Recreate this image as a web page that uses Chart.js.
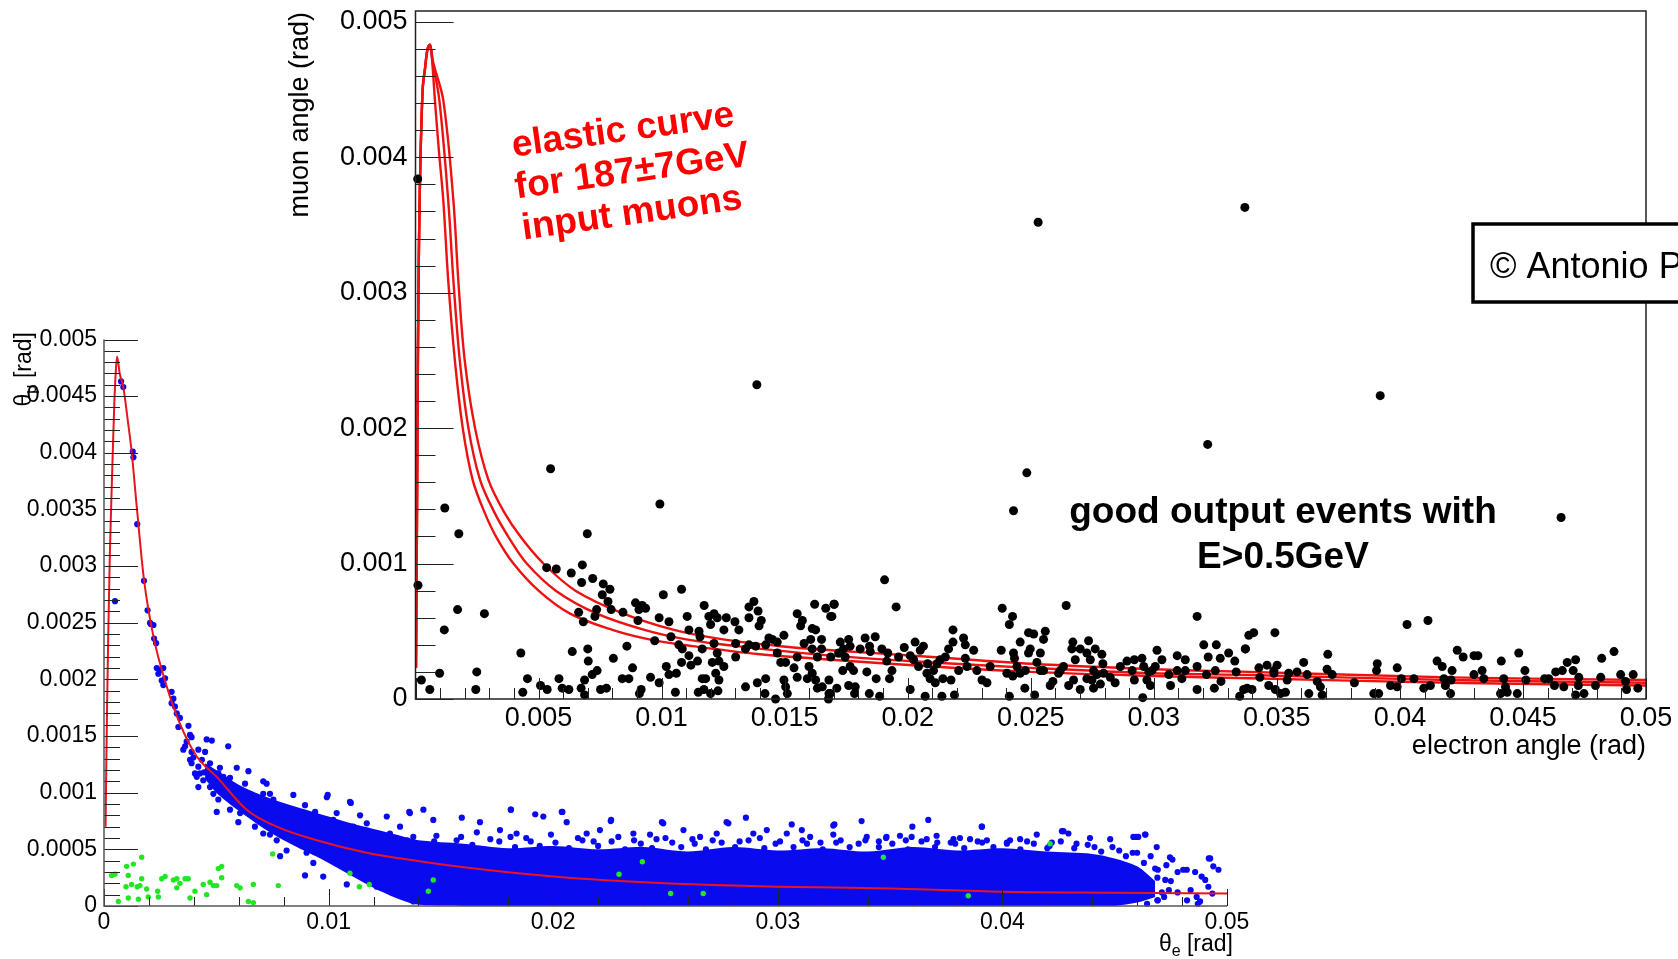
<!DOCTYPE html>
<html><head><meta charset="utf-8">
<script src="https://cdn.jsdelivr.net/npm/chart.js@4.4.1/dist/chart.umd.min.js"></script>
<style>
html,body{margin:0;padding:0;background:#fff;overflow:hidden;width:1678px;height:959px;}
#back{position:absolute;left:0;top:0;}
#inset{position:absolute;left:270px;top:0;background:#fff;}
</style></head><body>
<canvas id="back" width="1678" height="959"></canvas>
<canvas id="inset" width="1408" height="770"></canvas>
<script>
// ---------------- DATA ----------------
// Back chart (theta_mu vs theta_e, simulated events)
const backXTicks = [0, 0.01, 0.02, 0.03, 0.04, 0.05];
const backXLabels = ['0', '0.01', '0.02', '0.03', '0.04', '0.05'];
const backYTicks = [0, 0.0005, 0.001, 0.0015, 0.002, 0.0025, 0.003, 0.0035, 0.004, 0.0045, 0.005];
const backYLabels = ['0', '0.0005', '0.001', '0.0015', '0.002', '0.0025', '0.003', '0.0035', '0.004', '0.0045', '0.005'];

const backCurve = [[0.00007,0.0007],[0.0001,0.0012],[0.00014,0.0018],[0.00019,0.0024],[0.00026,0.0031],[0.00033,0.0036],[0.00039,0.004],[0.00046,0.00444],[0.00052,0.0047],[0.00058,0.00485],[0.0007,0.0047],[0.00086,0.00458],[0.00105,0.0043],[0.00123,0.00401],[0.00146,0.00352],[0.00178,0.00288],[0.0022,0.00238],[0.00279,0.00194],[0.00338,0.00161],[0.00413,0.00132],[0.00502,0.00114],[0.00635,0.00085],[0.00769,0.0007],[0.00947,0.00058],[0.0117,0.00047],[0.0139,0.0004],[0.0165,0.00033],[0.02,0.00026],[0.025,0.0002],[0.03,0.00017],[0.035,0.000155],[0.04,0.000126],[0.045,0.000118],[0.05,0.00011]];

// dense core of the blue cloud (upper / lower edge)
const bandX =      [0.0045,0.005,0.006,0.007,0.008,0.009,0.010,0.011,0.012,0.013,0.014,0.016,0.018,0.020,0.022,0.024,0.026,0.028,0.030,0.032,0.034,0.036,0.038,0.040,0.042,0.044,0.045,0.046,0.0468];
const bandTop =    [0.00126,0.00120,0.00107,0.00098,0.00091,0.00085,0.00079,0.00073,0.00068,0.00063,0.00058,0.00055,0.00051,0.00053,0.00050,0.00052,0.00048,0.00052,0.00049,0.00051,0.00048,0.00052,0.00049,0.00051,0.00048,0.00046,0.00042,0.00035,0.00022];
const bandBottom = [0.00112,0.00100,0.00084,0.00070,0.00058,0.00048,0.00038,0.00027,0.00016,0.00007,0.00001,0,0,0,0,0,0,0,0,0,0,0,0,0,0,0,0,0.00003,0.00008];

const blueCurvePts = [[0.00076,0.00463],[0.00086,0.00458],[0.00128,0.00401],[0.00131,0.00396],[0.00148,0.00337],[0.00049,0.00269],[0.00178,0.00287],[0.00194,0.00261],[0.00208,0.00249],[0.0022,0.00248],[0.00223,0.00236],[0.00205,0.0025],[0.00232,0.00232],[0.00235,0.0021],[0.00249,0.00208],[0.00264,0.0021],[0.00242,0.00205],[0.00257,0.00199],[0.00272,0.00201],[0.00264,0.00195],[0.00301,0.00189],[0.00309,0.00183],[0.00301,0.00179],[0.00316,0.00176],[0.00324,0.0017],[0.00338,0.00166],[0.00331,0.00158],[0.00376,0.00159],[0.00383,0.00151],[0.0039,0.00149],[0.00361,0.00141],[0.00353,0.00138],[0.0039,0.00136],[0.0042,0.00138],[0.0045,0.00136],[0.00457,0.00147],[0.0048,0.00146],[0.00553,0.00141],[0.00383,0.00129],[0.0039,0.00126],[0.0042,0.00123],[0.00427,0.00117],[0.00413,0.00116],[0.00472,0.00126],[0.00464,0.0012],[0.00516,0.00122],[0.00509,0.00117],[0.00502,0.00114],[0.00531,0.00114],[0.00561,0.00113],[0.00591,0.00122],[0.00643,0.00119],[0.00405,0.00117],[0.00413,0.00114],[0.00442,0.00111],[0.0042,0.00105],[0.00472,0.00105],[0.00487,0.00099],[0.00509,0.00094],[0.00502,0.00083],[0.00561,0.00105],[0.00569,0.00099],[0.00576,0.00092],[0.00561,0.00085],[0.00368,0.00145],[0.00398,0.00131],[0.00436,0.00129],[0.00446,0.00118]];

const blueMidPts = [[0.00606,0.00101],[0.00628,0.00108],[0.0065,0.00099],[0.00635,0.00092],[0.00606,0.00082],[0.00598,0.00074],[0.00665,0.00088],[0.0068,0.00079],[0.00709,0.0011],[0.00724,0.00108],[0.00709,0.00099],[0.00739,0.00099],[0.00754,0.00094],[0.00724,0.00089],[0.00702,0.00076],[0.00672,0.0007],[0.00709,0.00064],[0.00739,0.00063],[0.00769,0.00076],[0.00798,0.00082],[0.00813,0.00064],[0.00769,0.00058],[0.00813,0.00049],[0.00784,0.00044],[0.00843,0.00098],[0.00895,0.00089],[0.0094,0.00083],[0.00873,0.00076],[0.00902,0.0007],[0.00947,0.00073],[0.00873,0.00058],[0.00902,0.00047],[0.00932,0.00038],[0.00992,0.00096],[0.01021,0.00076],[0.01006,0.00064],[0.01036,0.00082],[0.01051,0.00047],[0.01081,0.00049],[0.01095,0.00092],[0.0111,0.0007],[0.0114,0.0008],[0.0117,0.00073],[0.01184,0.00058],[0.01155,0.00047],[0.01199,0.00029],[0.01214,0.00017],[0.01259,0.00079],[0.01273,0.00064],[0.01318,0.0007],[0.01303,0.00047],[0.01333,0.00029],[0.01288,0.00013],[0.01362,0.00082],[0.01377,0.00061],[0.01385,0.00044],[0.01392,0.00017],[0.01377,0.00004],[0.00895,0.00027],[0.00976,0.00026],[0.01081,0.00019],[0.01099,0.00091],[0.00996,0.00098]];

const blueEdgePts = [[0.01422,0.00085],[0.01359,0.00083],[0.01593,0.00078],[0.01812,0.00085],[0.0192,0.00081],[0.02041,0.00083],[0.02256,0.00075],[0.0249,0.00073],[0.0278,0.00073],[0.02858,0.00078],[0.03062,0.00072],[0.03107,0.00067],[0.03247,0.00071],[0.03373,0.00075],[0.01466,0.00076],[0.01674,0.00074],[0.01763,0.00067],[0.01837,0.00064],[0.01956,0.00079],[0.0206,0.00074],[0.02149,0.00064],[0.02208,0.00067],[0.02357,0.00064],[0.02431,0.00063],[0.0258,0.00067],[0.02654,0.00061],[0.02728,0.00064],[0.02891,0.00064],[0.02951,0.00067],[0.0304,0.00064],[0.03144,0.00061],[0.03247,0.00063],[0.03396,0.00061],[0.03484,0.00061],[0.0367,0.00076],[0.03599,0.0007],[0.03908,0.0007],[0.03482,0.0006],[0.03544,0.00062],[0.03596,0.00061],[0.03663,0.00059],[0.03707,0.00062],[0.03782,0.00059],[0.03811,0.0006],[0.03856,0.00059],[0.03931,0.00058],[0.04034,0.00058],[0.04079,0.00059],[0.04153,0.00063],[0.0422,0.00056],[0.04265,0.00066],[0.04294,0.00064],[0.0439,0.0006],[0.0448,0.00059],[0.04583,0.00061],[0.04605,0.00061],[0.04635,0.00063],[0.04687,0.00052],[0.04746,0.00043],[0.04821,0.00032],[0.04858,0.0003],[0.04887,0.00026],[0.04925,0.00042],[0.04939,0.00035],[0.04962,0.00032],[0.04917,0.00017],[0.04865,0.00008],[0.0488,0.00004],[0.01811,0.00085],[0.02038,0.00083],[0.02258,0.00076],[0.02484,0.00074],[0.02772,0.00074],[0.03252,0.00072],[0.03909,0.0007],[0.04272,0.00066],[0.04595,0.00061],[0.04637,0.00063],[0.04805,0.00032],[0.04919,0.00042],[0.04903,0.00023],[0.04838,0.00014],[0.04935,0.00011],[0.04822,0.00005],[0.0487,0.00002],[0.04692,0.00032],[0.04725,0.00023],[0.04741,0.00014],[0.04692,0.00005],[0.04644,0.00002],[0.04757,0.00041],[0.0148,0.00062],[0.0157,0.00058],[0.0166,0.00065],[0.0172,0.00059],[0.0181,0.00061],[0.019,0.00057],[0.0199,0.00063],[0.0211,0.0006],[0.0218,0.00057],[0.0229,0.00061],[0.0236,0.00058],[0.0246,0.00059],[0.0253,0.00056],[0.0262,0.00059],[0.0271,0.00058],[0.0283,0.00057],[0.0292,0.0006],[0.0299,0.00055],[0.0311,0.00058],[0.0319,0.00056],[0.0328,0.00058],[0.0336,0.00055],[0.0345,0.00057],[0.0357,0.00058],[0.0371,0.00056],[0.0379,0.00055],[0.0391,0.00056],[0.0402,0.00055],[0.0411,0.00057],[0.0421,0.00053],[0.0433,0.00055],[0.0441,0.00052],[0.0452,0.00049],[0.0458,0.00047],[0.0466,0.00044],[0.0473,0.00036],[0.0478,0.0003],[0.0475,0.00022],[0.0478,0.00012],[0.0472,0.00008]];

const blueRagPts = [[0.0135,0.00058],[0.0141,0.00052],[0.0147,0.00057],[0.0153,0.0005],[0.0159,0.00061],[0.0164,0.00054],[0.017,0.00049],[0.0176,0.00057],[0.0183,0.00052],[0.0188,0.0006],[0.0194,0.00053],[0.0201,0.00056],[0.0207,0.00051],[0.0213,0.00058],[0.022,0.00053],[0.0226,0.00057],[0.0232,0.0005],[0.0239,0.00055],[0.0244,0.00051],[0.025,0.0006],[0.0257,0.00052],[0.0263,0.00055],[0.0268,0.0005],[0.0275,0.00056],[0.0281,0.00052],[0.0287,0.00058],[0.0294,0.00051],[0.0301,0.00057],[0.0307,0.00052],[0.0313,0.00055],[0.032,0.0005],[0.0326,0.00056],[0.0332,0.00052],[0.0339,0.00058],[0.0345,0.00052],[0.0351,0.00055],[0.0358,0.0005],[0.0364,0.00057],[0.037,0.00052],[0.0377,0.00056],[0.0383,0.00051],[0.0389,0.00057],[0.0396,0.00052],[0.0402,0.00056],[0.0408,0.0005],[0.0414,0.00055],[0.042,0.00051],[0.0426,0.00057],[0.0432,0.00051],[0.0438,0.00054],[0.0444,0.00048],[0.0449,0.00052],[0.0455,0.00044],[0.046,0.00047],[0.0463,0.00038],[0.0468,0.00033],[0.0469,0.00025],[0.0466,0.00018],[0.0471,0.00012],[0.0469,0.00005]];

const greenPts = [[0.00034,0.00027],[0.00049,0.00028],[0.00101,0.00035],[0.00131,0.00037],[0.00168,0.00043],[0.00108,0.00027],[0.00098,0.00017],[0.00123,0.00019],[0.00148,0.00017],[0.0016,0.00018],[0.00168,0.00024],[0.0019,0.00015],[0.00064,0.00004],[0.00108,0.00007],[0.00153,0.00006],[0.00197,0.00008],[0.00242,0.00008],[0.00239,0.00013],[0.00257,0.00024],[0.00272,0.00026],[0.00309,0.00023],[0.00324,0.00024],[0.00338,0.0002],[0.00361,0.00024],[0.00375,0.00024],[0.00324,0.00016],[0.00383,0.00007],[0.00405,0.00013],[0.00442,0.00019],[0.00457,0.0001],[0.00472,0.00021],[0.00487,0.00018],[0.00502,0.00018],[0.00509,0.00033],[0.00524,0.00035],[0.00524,0.00025],[0.00591,0.00018],[0.00606,0.00016],[0.00665,0.00019],[0.00643,0.00004],[0.00665,0.00003],[0.00776,0.00018],[0.00751,0.00046],[0.01095,0.00029],[0.01137,0.00017],[0.01181,0.00019],[0.01466,0.00023],[0.01444,0.00013],[0.02293,0.00028],[0.02397,0.00039],[0.02523,0.00011],[0.02668,0.00011],[0.0347,0.00043],[0.04212,0.00055],[0.03848,0.00009]];

// Inset chart (muon angle vs electron angle, measured events)
const insetXTicks = [0.005, 0.01, 0.015, 0.02, 0.025, 0.03, 0.035, 0.04, 0.045, 0.05];
const insetXLabels = ['0.005', '0.01', '0.015', '0.02', '0.025', '0.03', '0.035', '0.04', '0.045', '0.05'];
const insetYTicks = [0, 0.001, 0.002, 0.003, 0.004, 0.005];
const insetYLabels = ['0', '0.001', '0.002', '0.003', '0.004', '0.005'];

const curveRise = [[0.00002,0.00023],[0.00005,0.001],[0.00008,0.002],[0.00012,0.003],[0.00018,0.0038],[0.00029,0.0045],[0.00039,0.00466],[0.00049,0.0048],[0.00059,0.00483]];
const curveLow = [[0.00068,0.0047],[0.00079,0.00442],[0.00095,0.00405],[0.00113,0.00368],[0.00133,0.00309],[0.0016,0.0025],[0.00192,0.002],[0.00232,0.00162],[0.0028,0.00138],[0.0033,0.00119],[0.00398,0.001],[0.005,0.0008],[0.00628,0.00063],[0.008,0.00051],[0.0095,0.00044],[0.01128,0.00039],[0.014,0.00033],[0.0169,0.00029],[0.021,0.00024],[0.025,0.0002],[0.03,0.00017],[0.0339,0.000153],[0.042,0.00012],[0.05,0.0001]];
const curveMid = [[0.0007,0.0047],[0.00097,0.00442],[0.00133,0.00368],[0.00154,0.00309],[0.0018,0.0025],[0.00215,0.002],[0.00262,0.00162],[0.0032,0.00138],[0.0038,0.00119],[0.00452,0.001],[0.0057,0.0008],[0.00737,0.00063],[0.0093,0.00051],[0.011,0.00044],[0.01306,0.00039],[0.0169,0.00032],[0.021,0.00027],[0.025,0.00023],[0.03,0.00019],[0.0339,0.000177],[0.042,0.00014],[0.05,0.00012]];
const curveHigh = [[0.00072,0.0047],[0.00113,0.00442],[0.00154,0.00368],[0.00174,0.00309],[0.002,0.0025],[0.00242,0.002],[0.00296,0.00162],[0.0036,0.00138],[0.0043,0.00119],[0.0052,0.001],[0.0065,0.0008],[0.00845,0.00063],[0.0105,0.00051],[0.0125,0.00044],[0.01482,0.00039],[0.0169,0.00036],[0.021,0.00031],[0.025,0.00026],[0.03,0.00022],[0.0339,0.0002],[0.042,0.00016],[0.05,0.00014]];

const insetOutliers = [[0.00009,0.00384],[0.0253,0.00352],[0.0337,0.00363],[0.01387,0.00232],[0.0392,0.00224]];
const insetLeft = [[0.00549,0.0017],[0.00993,0.00144],[0.00119,0.00141],[0.00176,0.00122],[0.00698,0.00122],[0.0001,0.00084],[0.00171,0.00066],[0.0028,0.00063],[0.00117,0.00051],[0.00428,0.00034],[0.00098,0.00019],[0.00249,0.0002],[0.00024,0.00014],[0.00058,0.00007],[0.00245,0.00007],[0.00436,0.00005],[0.00455,0.00015],[0.00508,0.0001],[0.00535,0.00007],[0.00583,0.00015],[0.00596,0.00008],[0.00623,0.00007],[0.00533,0.00097],[0.00572,0.00096],[0.00633,0.00093],[0.00678,0.00099],[0.00675,0.00086],[0.0072,0.00089],[0.00763,0.00085],[0.0079,0.00081],[0.00759,0.00077],[0.00782,0.00072],[0.00736,0.00066],[0.00729,0.00061],[0.00795,0.00066],[0.00663,0.00064],[0.00682,0.00057],[0.00843,0.00064],[0.00894,0.00071],[0.00921,0.00069],[0.00908,0.00066],[0.00935,0.00067],[0.00904,0.00058],[0.01007,0.00077],[0.01081,0.00081],[0.0099,0.0006],[0.0103,0.00057],[0.00972,0.00043],[0.00859,0.00039],[0.00637,0.00035],[0.007,0.00037],[0.00702,0.00028],[0.00804,0.0003],[0.00882,0.00023],[0.00738,0.00021],[0.00718,0.00018],[0.00687,0.00014],[0.00673,0.00008],[0.00687,0.00003],[0.00752,0.00007],[0.00776,0.00008],[0.0084,0.00015],[0.00867,0.00015],[0.00917,0.00007],[0.0091,0.00004],[0.00955,0.00016],[0.0099,0.00012],[0.01019,0.00024],[0.0103,0.00018],[0.0106,0.00019],[0.0107,0.0004],[0.01038,0.00046],[0.01084,0.00037],[0.01111,0.00032],[0.01081,0.00027],[0.01119,0.00025],[0.01146,0.00028],[0.01056,0.00005],[0.01149,0.00005],[0.01172,0.00007],[0.01199,0.00004],[0.01229,0.00006],[0.01165,0.00015],[0.01179,0.00015],[0.01104,0.00061],[0.01111,0.00051],[0.01152,0.0005],[0.01156,0.00046],[0.01165,0.00037],[0.01173,0.00069],[0.01192,0.00061],[0.01213,0.00063],[0.01226,0.0006],[0.01199,0.00055],[0.01213,0.00041],[0.01226,0.00034],[0.01233,0.00028],[0.01206,0.00027],[0.0122,0.00019],[0.01253,0.00024],[0.01233,0.00014],[0.01263,0.0006],[0.01253,0.00051],[0.01298,0.00057],[0.01314,0.00051],[0.01301,0.00041],[0.01301,0.00031],[0.01341,0.00037],[0.01355,0.0004],[0.01382,0.00039],[0.01423,0.0004],[0.01436,0.00045],[0.01355,0.00068],[0.01375,0.00072],[0.01392,0.00065],[0.01355,0.0006],[0.01405,0.00058],[0.01396,0.00054],[0.0145,0.00044],[0.0147,0.00042],[0.01497,0.00047],[0.0147,0.00034],[0.01484,0.00027],[0.01504,0.00027],[0.01423,0.00015],[0.0142,0.00004],[0.01463,0.0],[0.01341,0.00009],[0.01389,0.00012],[0.01497,0.00014],[0.01504,0.00009],[0.01511,0.00004],[0.01538,0.00023],[0.01551,0.00016],[0.01551,0.00031],[0.01551,0.00063],[0.01572,0.00058],[0.01565,0.00054],[0.01622,0.0007],[0.01612,0.00052],[0.01626,0.00051],[0.01667,0.00067],[0.01701,0.0007],[0.01687,0.00061],[0.01579,0.00041],[0.01606,0.00044],[0.0165,0.00044],[0.0165,0.00037],[0.01612,0.00037],[0.01633,0.00031],[0.01687,0.00031],[0.01599,0.00024],[0.01612,0.00019],[0.01592,0.00015],[0.01626,0.00014],[0.01653,0.00009],[0.0168,0.00014],[0.0168,0.00004],[0.01678,0.0],[0.01633,0.00008]];
const insetMid = [[0.01906,0.00088],[0.01953,0.00068],[0.02484,0.00167],[0.0243,0.00139],[0.03219,0.00188],[0.02644,0.00069],[0.02384,0.00067],[0.02426,0.00061],[0.02413,0.00055],[0.03176,0.00061],[0.01701,0.0007],[0.01692,0.00061],[0.02184,0.00051],[0.02227,0.00045],[0.02184,0.00042],[0.02234,0.0004],[0.01726,0.00042],[0.0176,0.00044],[0.01766,0.00039],[0.01739,0.00037],[0.01719,0.00034],[0.01746,0.00031],[0.01827,0.00045],[0.01868,0.00046],[0.01845,0.00039],[0.01848,0.00035],[0.01807,0.00037],[0.01895,0.00037],[0.01919,0.00034],[0.01915,0.00028],[0.01936,0.00021],[0.01963,0.00031],[0.01986,0.00038],[0.0201,0.00032],[0.0203,0.00042],[0.02051,0.00036],[0.02064,0.00039],[0.01736,0.00021],[0.01766,0.00024],[0.0178,0.00021],[0.01834,0.0002],[0.01872,0.00015],[0.01926,0.00015],[0.01787,0.00009],[0.0176,0.0001],[0.01712,0.00008],[0.01685,0.00004],[0.01844,0.00004],[0.01886,0.00002],[0.01784,0.00004],[0.0201,0.00007],[0.02071,0.00002],[0.02139,0.00002],[0.0219,0.00003],[0.02143,0.00015],[0.02176,0.00014],[0.02024,0.00029],[0.02044,0.00024],[0.02078,0.00019],[0.02091,0.00015],[0.02105,0.00021],[0.02119,0.00026],[0.02132,0.00029],[0.02153,0.00031],[0.02166,0.00037],[0.02081,0.00026],[0.02112,0.00012],[0.02207,0.00021],[0.02234,0.0003],[0.02241,0.00024],[0.02268,0.00036],[0.02281,0.00021],[0.02302,0.00014],[0.02322,0.00012],[0.02335,0.00024],[0.0238,0.00036],[0.0243,0.00034],[0.02434,0.0003],[0.02403,0.00019],[0.02427,0.00017],[0.02444,0.00024],[0.02478,0.00021],[0.02476,0.00008],[0.02516,0.00003],[0.02413,0.00002],[0.02457,0.00019],[0.02457,0.00042],[0.02491,0.00049],[0.02512,0.00048],[0.02559,0.0005],[0.02552,0.00044],[0.02498,0.00037],[0.02491,0.00034],[0.02539,0.00034],[0.02525,0.00027],[0.02539,0.00021],[0.02552,0.00021],[0.02579,0.0001],[0.0259,0.00013],[0.0262,0.00021],[0.02613,0.00019],[0.02633,0.00024],[0.02654,0.0001],[0.02674,0.00014],[0.02701,0.00007],[0.02671,0.00042],[0.02667,0.00037],[0.02701,0.00037],[0.02681,0.00029],[0.02735,0.00043],[0.02762,0.00037],[0.02728,0.00034],[0.02742,0.00029],[0.02789,0.00033],[0.02793,0.00026],[0.02755,0.00021],[0.02728,0.00015],[0.02749,0.00014],[0.02755,0.00008],[0.02783,0.00011],[0.02769,0.00018],[0.02796,0.00019],[0.02823,0.00016],[0.02843,0.00012],[0.02864,0.00024],[0.02891,0.00028],[0.02912,0.00021],[0.02921,0.00029],[0.02952,0.0003],[0.02959,0.00024],[0.0298,0.0002],[0.02993,0.00021],[0.03013,0.00036],[0.03033,0.00029],[0.03006,0.00024],[0.02921,0.00014],[0.02972,0.00014],[0.02986,0.0001],[0.02955,0.00001],[0.03061,0.00018],[0.03068,0.0001],[0.03095,0.00032],[0.03095,0.00021],[0.03128,0.00029],[0.03128,0.00021],[0.03114,0.00015],[0.03176,0.00024],[0.03176,0.00007],[0.03203,0.0004],[0.03221,0.00031],[0.03214,0.00018],[0.0325,0.00021],[0.03254,0.0004],[0.0327,0.0003],[0.03273,0.00013],[0.03246,0.00008],[0.03304,0.00034],[0.03329,0.00028],[0.03335,0.0002],[0.03372,0.00037],[0.03365,0.00007],[0.03349,0.00002],[0.03386,0.00047]];
const insetRight = [[0.04655,0.00134],[0.04029,0.00055],[0.04114,0.00058],[0.03406,0.00049],[0.03492,0.00049],[0.03372,0.00037],[0.03379,0.00008],[0.03399,0.00007],[0.03427,0.00023],[0.03431,0.00016],[0.0346,0.00025],[0.03467,0.0001],[0.03488,0.00021],[0.03501,0.00025],[0.03488,0.00019],[0.03494,0.00007],[0.03515,0.00004],[0.03535,0.00005],[0.03542,0.00014],[0.03548,0.00019],[0.03582,0.0002],[0.03609,0.00027],[0.03623,0.00018],[0.0363,0.00004],[0.03664,0.00013],[0.03677,0.00009],[0.03684,0.00003],[0.03707,0.00033],[0.03704,0.00022],[0.03725,0.00018],[0.03815,0.00012],[0.03894,0.00004],[0.03914,0.00004],[0.03908,0.00026],[0.03905,0.00021],[0.03962,0.0001],[0.03989,0.00009],[0.03989,0.00023],[0.04006,0.00015],[0.04057,0.00015],[0.04097,0.00008],[0.04124,0.0001],[0.04151,0.00028],[0.04172,0.00024],[0.04212,0.00021],[0.04179,0.00015],[0.04185,0.0001],[0.04208,0.00014],[0.04206,0.00004],[0.04233,0.00036],[0.04257,0.00031],[0.04301,0.00032],[0.04317,0.00032],[0.04301,0.00018],[0.04334,0.00021],[0.04341,0.00015],[0.04412,0.00028],[0.04422,0.00015],[0.04429,0.00009],[0.04436,0.00005],[0.04409,0.00004],[0.04483,0.00034],[0.04477,0.00004],[0.04508,0.00021],[0.04512,0.00014],[0.04588,0.00015],[0.04605,0.00015],[0.04628,0.0001],[0.04633,0.0002],[0.0466,0.00021],[0.04666,0.00009],[0.0468,0.00027],[0.04704,0.00021],[0.04714,0.00029],[0.04727,0.00016],[0.04725,0.0001],[0.04714,0.00003],[0.04748,0.00004],[0.04795,0.0001],[0.04816,0.00016],[0.0482,0.0003],[0.0487,0.00035],[0.04897,0.00018],[0.04917,0.00013],[0.04921,0.00007],[0.04948,0.00018],[0.04967,0.00008]];

// ---------------- RENDERING ----------------
const FONT = '"Liberation Sans", Arial, Helvetica, sans-serif';
Chart.defaults.font.family = FONT;
Chart.defaults.color = '#000';
const xy = a => a.map(p => ({x: p[0], y: p[1]}));
const zipXY = (xs, ys) => xs.map((x, i) => ({x, y: ys[i]}));

// ROOT-style frame and inward ticks drawn through the scales
const rootFrame = {
  id: 'rootFrame',
  afterDatasetsDraw(chart, args, o) {
    const ctx = chart.ctx, a = chart.chartArea, xs = chart.scales.x, ys = chart.scales.y;
    ctx.save();
    ctx.strokeStyle = o.tickColor; ctx.lineWidth = 1;
    ctx.beginPath();
    const nx = Math.floor((xs.max - xs.min) / o.xMinor + 1e-6);
    for (let i = 0; i <= nx; i++) {
      const v = xs.min + i * o.xMinor;
      const r = v / o.xMajor, major = Math.abs(r - Math.round(r)) < 1e-6;
      const p = Math.round(xs.getPixelForValue(v)) + 0.5;
      ctx.moveTo(p, a.bottom); ctx.lineTo(p, a.bottom - (major ? o.xMajorLen : o.xMinorLen));
    }
    const ny = Math.floor((ys.max - ys.min) / o.yMinor + 1e-6);
    for (let i = 0; i <= ny; i++) {
      const v = ys.min + i * o.yMinor;
      const r = v / o.yMajor, major = Math.abs(r - Math.round(r)) < 1e-6;
      const p = Math.round(ys.getPixelForValue(v)) + 0.5;
      ctx.moveTo(a.left, p); ctx.lineTo(a.left + (major ? o.yMajorLen : o.yMinorLen), p);
    }
    ctx.stroke();
    ctx.strokeStyle = o.axisColor; ctx.lineWidth = o.axisWidth;
    ctx.beginPath();
    if (o.box) {
      ctx.rect(a.left, a.top, a.right - a.left, a.bottom - a.top);
    } else {
      ctx.moveTo(a.left, a.top); ctx.lineTo(a.left, a.bottom); ctx.lineTo(a.right, a.bottom);
    }
    ctx.stroke();
    ctx.restore();
  }
};

const texts = {
  id: 'texts',
  afterDraw(chart, args, o) {
    const ctx = chart.ctx;
    for (const b of (o.boxes || [])) {
      ctx.save();
      ctx.fillStyle = '#fff'; ctx.strokeStyle = '#000'; ctx.lineWidth = b.lw;
      ctx.fillRect(b.x, b.y, b.w, b.h); ctx.strokeRect(b.x, b.y, b.w, b.h);
      ctx.restore();
    }
    for (const it of o.items) {
      ctx.save();
      ctx.translate(it.x, it.y);
      if (it.rot) ctx.rotate(it.rot * Math.PI / 180);
      ctx.fillStyle = it.color || '#000';
      ctx.textBaseline = it.baseline || 'alphabetic';
      ctx.textAlign = 'left';
      const parts = it.parts || [{t: it.text}];
      let total = 0;
      for (const p of parts) { ctx.font = p.font || it.font; total += ctx.measureText(p.t).width; }
      let x0 = it.align === 'right' ? -total : (it.align === 'center' ? -total / 2 : 0);
      for (const p of parts) {
        ctx.font = p.font || it.font;
        ctx.fillText(p.t, x0, p.dy || 0);
        x0 += ctx.measureText(p.t).width;
      }
      ctx.restore();
    }
  }
};

function axisCfg(min, max, tickVals, tickLabels, size, pad, fitFn) {
  return {
    type: 'linear', min, max,
    afterBuildTicks: s => { s.ticks = tickVals.map(v => ({value: v})); },
    ticks: { callback: (v, i) => tickLabels[i], autoSkip: false, maxRotation: 0, minRotation: 0,
             padding: pad, font: {size, family: FONT}, color: '#000' },
    grid: { display: false, drawTicks: false },
    border: { display: false },
    afterFit: s => { fitFn(s); s.paddingTop = 0; s.paddingBottom = 0; s.paddingLeft = 0; s.paddingRight = 0; }
  };
}

const BLUE = '#0a0aef';
// ---- back chart ----
new Chart(document.getElementById('back'), {
  type: 'scatter',
  data: {
    datasets: [
      { data: zipXY(bandX, bandTop), showLine: true, borderWidth: 0, borderColor: 'rgba(0,0,0,0)',
        pointRadius: 0, fill: '+1', backgroundColor: BLUE, tension: 0.3, order: 5 },
      { data: zipXY(bandX, bandBottom), showLine: true, borderWidth: 0, borderColor: 'rgba(0,0,0,0)',
        pointRadius: 0, fill: false, tension: 0.3, order: 6 },
      { data: xy(blueCurvePts.concat(blueMidPts, blueEdgePts, blueRagPts)), pointRadius: 3.1, pointBorderWidth: 0,
        backgroundColor: BLUE, pointBackgroundColor: BLUE, clip: false, order: 3 },
      { data: xy(greenPts), pointRadius: 2.7, pointBorderWidth: 0,
        backgroundColor: '#22e622', pointBackgroundColor: '#22e622', clip: false, order: 2 },
      { data: xy(backCurve), showLine: true, borderColor: '#e8141e', borderWidth: 2, pointRadius: 0,
        cubicInterpolationMode: 'monotone', fill: false, order: 1 }
    ]
  },
  options: {
    responsive: false, animation: false, devicePixelRatio: 1, events: [],
    layout: { autoPadding: false, padding: { left: 0, top: 339.5, right: 451, bottom: 0 } },
    scales: {
      x: axisCfg(0, 0.05, backXTicks, backXLabels, 23, 3, s => { s.height = 53; }),
      y: axisCfg(0, 0.005, backYTicks, backYLabels, 23, 7, s => { s.width = 104; })
    },
    plugins: {
      legend: { display: false }, tooltip: { enabled: false },
      rootFrame: { tickColor: '#222', axisColor: '#555', axisWidth: 1.5, box: false,
        xMinor: 0.002, xMajor: 0.01, xMajorLen: 17, xMinorLen: 9,
        yMinor: 0.0001, yMajor: 0.0005, yMajorLen: 34, yMinorLen: 16 },
      texts: { items: [
        { parts: [{t: 'θ'}, {t: 'e', font: '16px ' + FONT, dy: 5}, {t: ' [rad]'}],
          x: 1233, y: 951, align: 'right', font: '23px ' + FONT },
        { parts: [{t: 'θ'}, {t: 'μ', font: '16px ' + FONT, dy: 5}, {t: ' [rad]'}],
          x: 31, y: 332, rot: -90, align: 'right', font: '23px ' + FONT }
      ] }
    }
  },
  plugins: [rootFrame, texts]
});

// ---- inset chart ----
const curveStyle = { showLine: true, borderColor: '#ee1111', borderWidth: 2.4, pointRadius: 0,
  tension: 0.35, fill: false, order: 2 };
new Chart(document.getElementById('inset'), {
  type: 'scatter',
  data: {
    datasets: [
      Object.assign({ data: xy(curveRise.concat(curveLow)) }, curveStyle),
      Object.assign({ data: xy(curveRise.concat(curveMid)) }, curveStyle),
      Object.assign({ data: xy(curveRise.concat(curveHigh)) }, curveStyle),
      { data: xy(insetOutliers.concat(insetLeft, insetMid, insetRight)), pointRadius: 4.5, pointBorderWidth: 0,
        backgroundColor: '#000', pointBackgroundColor: '#000', clip: false, order: 1 }
    ]
  },
  options: {
    responsive: false, animation: false, devicePixelRatio: 1, events: [],
    layout: { autoPadding: false, padding: { left: 0, top: 11, right: 32, bottom: 0 } },
    scales: {
      x: axisCfg(0, 0.05, insetXTicks, insetXLabels, 27, 3, s => { s.height = 71; }),
      y: axisCfg(0, 0.00508, insetYTicks, insetYLabels, 27, 8, s => { s.width = 145.5; })
    },
    plugins: {
      legend: { display: false }, tooltip: { enabled: false },
      rootFrame: { tickColor: '#222', axisColor: '#222', axisWidth: 1.5, box: true,
        xMinor: 0.001, xMajor: 0.005, xMajorLen: 21, xMinorLen: 11,
        yMinor: 0.0002, yMajor: 0.001, yMajorLen: 38, yMinorLen: 20 },
      texts: {
        boxes: [ { x: 1203, y: 224, w: 260, h: 78, lw: 3.5 } ],
        items: [
          { text: 'muon angle (rad)', x: 38, y: 12, rot: -90, align: 'right', font: '27px ' + FONT },
          { text: 'electron angle (rad)', x: 1376, y: 754, align: 'right', font: '27px ' + FONT },
          { text: 'elastic curve', x: 353, y: 131, rot: -8, align: 'center', baseline: 'middle',
            font: 'bold 37px ' + FONT, color: '#ff0000' },
          { text: 'for 187±7GeV', x: 362, y: 172, rot: -8, align: 'center', baseline: 'middle',
            font: 'bold 37px ' + FONT, color: '#ff0000' },
          { text: 'input muons', x: 362, y: 214, rot: -8, align: 'center', baseline: 'middle',
            font: 'bold 37px ' + FONT, color: '#ff0000' },
          { text: 'good output events with', x: 1013, y: 523, align: 'center', font: 'bold 37px ' + FONT },
          { text: 'E>0.5GeV', x: 1013, y: 568, align: 'center', font: 'bold 37px ' + FONT },
          { text: '© Antonio P', x: 1220, y: 278, font: '36px ' + FONT }
        ]
      }
    }
  },
  plugins: [rootFrame, texts]
});
</script></body></html>
